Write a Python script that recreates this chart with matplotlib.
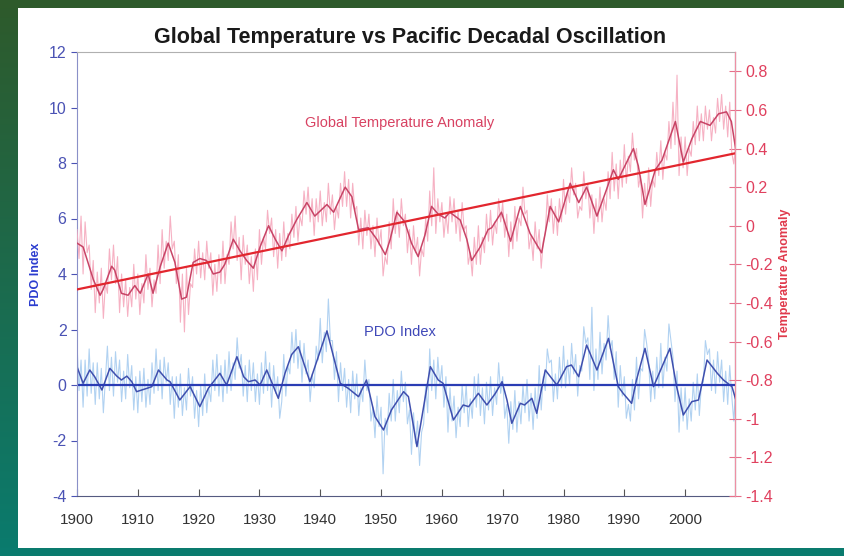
import matplotlib.pyplot as plt
import numpy as np
from matplotlib.colors import LinearSegmentedColormap
from matplotlib.patches import Rectangle

plt.rcParams['font.family'] = ['Liberation Sans', 'DejaVu Sans']
plt.rcParams['axes.unicode_minus'] = False

years = np.arange(1900, 2009)

# temperature anomaly, three samples per year
temp_raw = [
    -0.02, -0.17, 0.05, -0.25, 0.02, -0.14, -0.10, -0.33, -0.18, -0.45, -0.24, -0.40,
    -0.22, -0.48, -0.30, -0.35, -0.12, -0.28, -0.10, -0.30, -0.16, -0.45, -0.25, -0.42,
    -0.28, -0.47, -0.32, -0.42, -0.20, -0.38,
    -0.25, -0.46, -0.30, -0.40, -0.15, -0.33, -0.22, -0.42, -0.28, -0.35, -0.10, -0.30,
    -0.02, -0.22, -0.08, -0.18, 0.05, -0.12, -0.08, -0.30, -0.15, -0.50, -0.25, -0.55,
    -0.22, -0.46, -0.30, -0.32, -0.12, -0.25,
    -0.08, -0.27, -0.14, -0.28, -0.08, -0.22, -0.14, -0.36, -0.20, -0.34, -0.15, -0.30,
    -0.08, -0.30, -0.15, -0.20, 0.02, -0.12, 0.05, -0.18, -0.06, -0.28, -0.05, -0.20,
    -0.10, -0.30, -0.16, -0.34, -0.12, -0.28,
    -0.02, -0.20, -0.06, -0.12, 0.08, -0.04, 0.04, -0.16, -0.02, -0.22, -0.04, -0.18,
    0.02, -0.16, -0.04, -0.12, 0.06, -0.06, 0.10, -0.08, 0.05, 0.00, 0.18, 0.06,
    0.20, 0.02, 0.14, -0.05, 0.14, 0.02,
    0.18, 0.00, 0.12, 0.02, 0.22, 0.06, 0.16, -0.02, 0.10, 0.04, 0.22, 0.10,
    0.28, 0.10, 0.24, 0.04, 0.22, 0.08, 0.10, -0.10, 0.04, -0.12, 0.08, -0.05,
    0.06, -0.12, 0.00, -0.16, 0.04, -0.10,
    -0.02, -0.26, -0.16, -0.20, 0.02, -0.12, 0.14, -0.04, 0.08, -0.06, 0.14, 0.00,
    0.06, -0.14, -0.02, -0.20, 0.00, -0.14, -0.06, -0.26, -0.12, -0.16, 0.04, -0.08,
    0.18, 0.00, 0.30, -0.04, 0.14, 0.02,
    0.12, -0.06, 0.06, -0.04, 0.15, 0.02, 0.14, -0.04, 0.08, -0.08, 0.12, -0.02,
    0.00, -0.20, -0.14, -0.26, -0.06, -0.20, 0.00, -0.20, -0.06, -0.14, 0.06, -0.08,
    0.08, -0.10, 0.02, -0.04, 0.14, 0.02,
    0.12, -0.06, 0.06, -0.16, 0.02, -0.12, 0.10, -0.08, 0.04, 0.00, 0.20, 0.06,
    0.08, -0.12, -0.05, -0.18, 0.02, -0.12, -0.02, -0.22, -0.08, -0.04, 0.16, 0.02,
    0.14, -0.04, 0.10, -0.05, 0.14, 0.02,
    0.24, 0.06, 0.18, 0.12, 0.30, 0.16, 0.22, 0.04, 0.10, 0.08, 0.28, 0.14,
    0.22, 0.04, 0.16, -0.04, 0.14, 0.02, 0.20, 0.02, 0.14, 0.08, 0.28, 0.14,
    0.38, 0.18, 0.32, 0.14, 0.34, 0.20,
    0.42, 0.22, 0.36, 0.28, 0.48, 0.34, 0.40, 0.20, 0.26, 0.04, 0.22, 0.10,
    0.30, 0.10, 0.24, 0.20, 0.38, 0.26, 0.44, 0.24, 0.38, 0.34, 0.54, 0.40,
    0.64, 0.42, 0.78, 0.26, 0.46, 0.30,
    0.46, 0.26, 0.40, 0.36, 0.54, 0.42, 0.62, 0.44, 0.58, 0.44, 0.62, 0.50,
    0.60, 0.44, 0.56, 0.48, 0.66, 0.54, 0.68, 0.50, 0.62, 0.46, 0.64, 0.38,
    0.32, 0.42, 0.34,
]

# PDO index, three samples per year
pdo_raw = [
    1.5, -0.2, 0.9, -0.8, 0.9, -0.4, 1.3, -0.3, 0.8, -0.7, 0.8, -0.5,
    0.6, -1.0, 0.2, 1.4, -0.2, 1.0, -0.4, 1.2, 0.1, 0.9, -0.6, 0.5,
    -0.5, 1.1, -0.1, 0.7, -0.9, 0.3,
    -1.0, 0.5, -0.6, 0.6, -0.8, 0.2, -0.7, 0.8, -0.3, 1.3, -0.2, 0.9,
    -0.5, 1.0, 0.1, 0.8, -0.7, 0.3, -1.2, 0.3, -0.8, 0.4, -1.1, -0.1,
    -0.9, 0.6, -0.4, 0.3, -1.2, -0.2,
    -1.5, 0.0, -1.1, 0.4, -1.0, -0.1, -0.6, 0.9, -0.2, 1.1, -0.4, 0.7,
    -0.6, 0.9, -0.3, 1.2, -0.2, 0.8, 0.2, 1.7, 0.6, 1.1, -0.4, 0.7,
    -0.6, 0.9, -0.2, 0.8, -0.6, 0.4,
    -0.7, 0.8, -0.3, 1.2, -0.2, 0.8, -0.8, 0.7, -0.3, 0.3, -1.2, -0.6,
    1.1, -0.4, 0.7, 0.4, 1.9, 0.8, 2.0, 0.6, 1.6, 0.1, 1.5, 0.4,
    0.9, -0.6, 0.4, -0.1, 1.4, 0.9,
    2.4, 0.8, 1.9, 1.2, 3.1, 1.6, 1.6, 0.2, 1.2, -0.6, 0.8, -0.2,
    0.6, -0.8, 0.2, -1.0, 0.5, -0.5, 0.4, -1.1, -0.1, -0.6, 0.9, -0.2,
    0.2, -1.3, -0.8, -1.9, -0.4, -1.5,
    -0.8, -3.2, -1.2, -1.8, -0.3, -1.3, 0.2, -1.3, -0.2, -1.0, 0.5, -0.6,
    0.1, -1.4, -0.9, -2.5, -1.0, -2.1, -1.3, -2.9, -1.7, -1.4, 0.0, -1.0,
    1.3, -0.2, 0.9, -0.5, 1.0, 0.0,
    0.7, -0.8, 0.3, -1.7, -0.1, -1.3, -0.4, -1.9, -0.8, -1.5, 0.0, -1.0,
    0.0, -1.5, -0.5, -1.2, 0.3, -0.8, 0.4, -1.1, -0.1, -1.4, 0.1, -0.9,
    0.3, -1.1, -0.1, -0.7, 0.8, -0.3,
    0.3, -1.2, -0.7, -2.1, -0.6, -1.6, -0.2, -1.7, -0.6, -1.4, 0.0, -1.0,
    0.2, -1.3, -0.3, -1.6, -0.1, -1.2, 0.7, -0.9, 0.3, -0.2, 1.3, 0.8,
    0.9, -0.6, 0.4, -0.5, 1.0, -0.1,
    1.4, -0.1, 0.9, 0.0, 1.5, 0.4, 1.1, -0.4, 0.7, 0.5, 2.1, 1.5,
    1.7, 0.2, 2.8, -0.2, 1.3, 0.2, 1.9, 0.4, 1.5, 0.9, 2.5, 1.3,
    1.6, 0.2, 1.2, -0.8, 0.7, -0.4,
    0.3, -1.2, -0.7, -1.3, 0.2, -0.9, 1.0, -0.5, 0.6, 0.5, 2.0, 1.5,
    0.9, -0.6, 0.5, -0.5, 1.0, -0.1, 1.5, -0.1, 1.0, 0.5, 2.2, 1.6,
    1.0, -0.6, 0.5, -1.7, -0.1, -1.3,
    -0.1, -1.6, -0.5, -1.3, 0.1, -0.9, 0.4, -1.1, 0.0, 0.1, 1.6, 1.1,
    1.3, -0.2, 0.9, -0.3, 1.2, 0.1, 0.9, -0.6, 0.5, -0.7, 0.7, -0.4,
    -1.3, 0.0, -0.9,
]

temp_smooth_yr = [1900.0, 1901.0, 1902.7, 1903.8, 1904.3, 1905.7, 1906.2, 1907.3, 1908.4, 1909.5,
                  1910.4, 1911.7, 1912.5, 1913.7, 1915.0, 1916.1, 1917.2, 1918.0, 1919.1, 1920.2,
                  1921.3, 1922.4, 1923.5, 1924.3, 1925.7, 1926.8, 1927.9, 1929.0, 1930.1, 1931.5,
                  1932.6, 1933.7, 1934.8, 1936.1, 1937.8, 1939.1, 1941.1, 1942.2, 1944.1, 1945.2,
                  1946.3, 1947.9, 1949.3, 1950.7, 1951.5, 1952.6, 1953.9, 1955.0, 1956.1, 1957.2,
                  1958.3, 1959.4, 1960.5, 1961.3, 1963.0, 1964.1, 1964.9, 1966.3, 1967.6, 1968.2,
                  1969.8, 1971.3, 1972.9, 1974.5, 1976.4, 1977.8, 1979.2, 1981.1, 1982.5, 1983.8,
                  1985.5, 1987.1, 1988.2, 1989.0, 1991.5, 1992.3, 1993.4, 1995.1, 1996.2, 1998.4,
                  1999.7, 2001.1, 2002.5, 2004.1, 2005.5, 2006.8, 2007.6, 2008.3]
temp_smooth = [-0.09, -0.11, -0.28, -0.36, -0.33, -0.21, -0.23, -0.35, -0.36, -0.31,
               -0.35, -0.25, -0.35, -0.21, -0.09, -0.19, -0.38, -0.37, -0.19, -0.17,
               -0.18, -0.25, -0.24, -0.20, -0.07, -0.13, -0.18, -0.22, -0.11, 0.00,
               -0.07, -0.13, -0.05, 0.03, 0.12, 0.05, 0.11, 0.07, 0.20, 0.15,
               -0.02, -0.01, -0.07, -0.15, -0.07, 0.07, 0.02, -0.09, -0.16, -0.05,
               0.10, 0.06, 0.04, 0.07, 0.03, -0.07, -0.18, -0.11, -0.02, -0.01,
               0.07, -0.08, 0.10, -0.04, -0.14, 0.10, 0.02, 0.22, 0.12, 0.20,
               0.05, 0.19, 0.29, 0.24, 0.40, 0.31, 0.11, 0.29, 0.34, 0.54,
               0.33, 0.45, 0.54, 0.52, 0.58, 0.59, 0.54, 0.40]

pdo_smooth_yr = [1900.0, 1901.0, 1902.1, 1902.9, 1904.1, 1905.4, 1906.5, 1907.3, 1908.2, 1909.0,
                 1909.8, 1911.5, 1912.3, 1913.4, 1914.8, 1915.3, 1916.9, 1918.6, 1920.2, 1921.6,
                 1923.5, 1924.6, 1926.3, 1927.4, 1928.2, 1929.3, 1930.1, 1931.2, 1933.1, 1934.2,
                 1935.3, 1936.4, 1938.3, 1941.1, 1943.3, 1944.6, 1946.3, 1947.6, 1949.0, 1950.4,
                 1951.7, 1953.7, 1954.5, 1955.9, 1957.0, 1958.1, 1959.4, 1960.2, 1961.9, 1963.5,
                 1964.4, 1966.0, 1967.4, 1968.8, 1969.9, 1970.7, 1971.5, 1972.9, 1973.6, 1974.8,
                 1975.6, 1977.0, 1978.9, 1980.5, 1981.3, 1982.5, 1983.8, 1985.5, 1987.4, 1989.0,
                 1989.8, 1991.2, 1992.0, 1993.4, 1994.8, 1996.2, 1997.5, 1998.6, 1999.7, 2001.1,
                 2002.2, 2003.6, 2005.3, 2006.3, 2007.7, 2008.5]
pdo_smooth = [0.66, 0.06, 0.54, 0.30, -0.18, 0.60, 0.33, 0.18, 0.32, 0.12,
              -0.24, -0.12, -0.06, 0.54, 0.18, 0.12, -0.54, -0.06, -0.78, -0.12,
              0.42, 0.00, 1.02, 0.30, 0.12, 0.18, 0.00, 0.54, -0.48, 0.42,
              1.10, 1.38, 0.12, 1.95, 0.06, -0.12, -0.42, 0.18, -1.14, -1.62,
              -0.90, -0.24, -0.42, -2.22, -0.78, 0.66, 0.18, 0.06, -1.26, -0.72,
              -0.78, -0.30, -0.72, -0.30, 0.12, -0.54, -1.38, -0.66, -0.72, -0.48,
              -1.02, 0.54, 0.00, 0.66, 0.72, 0.30, 1.44, 0.54, 1.68, -0.06,
              -0.30, -0.66, 0.18, 1.32, -0.06, 0.66, 1.32, -0.06, -1.08, -0.60,
              -0.54, 0.90, 0.42, 0.18, -0.06, -0.66]

# linear trend of the temperature anomaly
trend_yr = [1900, 2008.2]
trend_val = [-0.33, 0.375]

pdo_ticks = list(range(-4, 13, 2))
temp_ticks = [0.8, 0.6, 0.4, 0.2, 0, -0.2, -0.4, -0.6, -0.8, -1, -1.2, -1.4]

raw_x = np.repeat(years, 3) + np.tile([0, 1 / 3, 2 / 3], len(years))

fig = plt.figure(figsize=(8.45, 5.56), dpi=100, facecolor='white')

# frame: gradient strip on the left, bars top and bottom
strip = fig.add_axes([0, 0, 18 / 845, 1])
strip.imshow(np.linspace(0, 1, 256).reshape(-1, 1), aspect='auto',
             cmap=LinearSegmentedColormap.from_list('frame', ['#2e5a2b', '#0a7b6e']))
strip.axis('off')
fig.patches.append(Rectangle((0, 1 - 8 / 556), 1, 8 / 556, transform=fig.transFigure,
                             facecolor='#2e5a2b', edgecolor='none'))
fig.patches.append(Rectangle((0, 0), 1, 8 / 556, transform=fig.transFigure,
                             facecolor='#0a7b6e', edgecolor='none'))

ax = fig.add_axes([77 / 845, 60 / 556, 658 / 845, 444 / 556])
ax2 = ax.twinx()

# PDO on the left axis
ax.plot(raw_x, pdo_raw, color='#a9cdf0', lw=0.8, alpha=0.9)
ax.plot(pdo_smooth_yr, pdo_smooth, color='#3f4fae', lw=1.1)
ax.axhline(0, color='#2a3cb4', lw=1.6)
ax.set_xlim(1900, 2008.2)
ax.set_ylim(-4, 12)
ax.set_yticks(pdo_ticks)
ax.set_xticks(range(1900, 2001, 10))

# temperature on the right axis
ax2.plot(raw_x, temp_raw, color='#f5a9bd', lw=0.8, alpha=0.9)
ax2.plot(temp_smooth_yr, temp_smooth, color='#c84466', lw=1.1)
ax2.plot(trend_yr, trend_val, color='#e2262e', lw=1.6)
ax2.set_ylim(-1.4, 0.9)
ax2.set_yticks(temp_ticks)
ax2.set_yticklabels(['%g' % t for t in temp_ticks])
ax2.set_xlim(1900, 2008.2)

ax.tick_params(axis='y', colors='#4a52b4', labelsize=11.5, direction='out', length=4)
ax.tick_params(axis='x', colors='#555555', labelcolor='#333333', labelsize=11,
               direction='in', length=5, pad=12)
ax2.tick_params(axis='y', colors='#e6708a', labelcolor='#e0405e', labelsize=11.5,
                direction='inout', length=8)

ax.spines['left'].set_color('#8a90c8')
ax.spines['bottom'].set_color('#555a80')
ax.spines['top'].set_color('#b0b0b0')
ax2.spines['right'].set_color('#ee8fa4')
for s in ['left', 'top', 'bottom']:
    ax2.spines[s].set_visible(False)

ax.set_ylabel('PDO Index', color='#2b3ccf', fontsize=9, fontweight='bold', labelpad=5)
ax2.set_ylabel('Temperature Anomaly', color='#e03a4c', fontsize=9, fontweight='bold', labelpad=4)

ax.text(1953.1, 9.45, 'Global Temperature Anomaly', color='#d84262', fontsize=10.5,
        ha='center', va='center')
ax.text(1953.1, 1.9, 'PDO Index', color='#3f48b8', fontsize=10.5, ha='center', va='center')

fig.text(410 / 845, 1 - 38 / 556, 'Global Temperature vs Pacific Decadal Oscillation',
         ha='center', va='center', fontsize=15.5, fontweight='bold', color='#1a1a1a')

fig.savefig('out.png', dpi=100, facecolor='white')
